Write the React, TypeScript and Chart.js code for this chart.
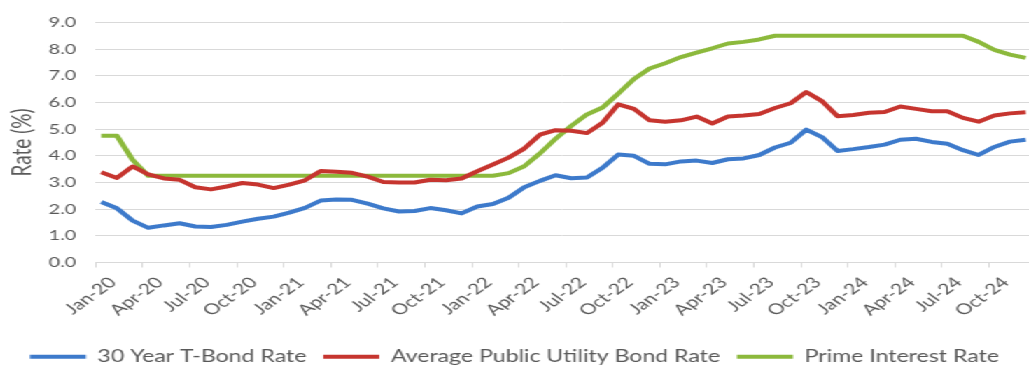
import React, { useEffect, useRef } from "react";
import { Chart, registerables } from "chart.js";

Chart.register(...registerables);

const months: string[] = [
  "Jan-20","Feb-20","Mar-20","Apr-20","May-20","Jun-20","Jul-20","Aug-20","Sep-20","Oct-20","Nov-20","Dec-20",
  "Jan-21","Feb-21","Mar-21","Apr-21","May-21","Jun-21","Jul-21","Aug-21","Sep-21","Oct-21","Nov-21","Dec-21",
  "Jan-22","Feb-22","Mar-22","Apr-22","May-22","Jun-22","Jul-22","Aug-22","Sep-22","Oct-22","Nov-22","Dec-22",
  "Jan-23","Feb-23","Mar-23","Apr-23","May-23","Jun-23","Jul-23","Aug-23","Sep-23","Oct-23","Nov-23","Dec-23",
  "Jan-24","Feb-24","Mar-24","Apr-24","May-24","Jun-24","Jul-24","Aug-24","Sep-24","Oct-24","Nov-24","Dec-24",
];

const tBondRate: number[] = [
  2.27, 2.03, 1.57, 1.30, 1.39, 1.47, 1.35, 1.33, 1.41, 1.53, 1.64, 1.72,
  1.87, 2.05, 2.32, 2.36, 2.35, 2.21, 2.03, 1.91, 1.93, 2.04, 1.96, 1.84,
  2.10, 2.19, 2.43, 2.82, 3.06, 3.27, 3.16, 3.19, 3.55, 4.05, 4.00, 3.70,
  3.68, 3.79, 3.82, 3.73, 3.87, 3.90, 4.03, 4.31, 4.49, 4.98, 4.70, 4.18,
  4.25, 4.33, 4.42, 4.60, 4.64, 4.52, 4.45, 4.21, 4.03, 4.33, 4.53, 4.60,
];

const utilityBondRate: number[] = [
  3.38, 3.17, 3.60, 3.30, 3.15, 3.10, 2.82, 2.74, 2.85, 2.98, 2.92, 2.79,
  2.92, 3.08, 3.43, 3.40, 3.36, 3.22, 3.02, 3.00, 3.00, 3.10, 3.08, 3.15,
  3.42, 3.67, 3.93, 4.27, 4.79, 4.96, 4.94, 4.85, 5.24, 5.93, 5.76, 5.33,
  5.28, 5.33, 5.47, 5.21, 5.47, 5.51, 5.57, 5.79, 5.97, 6.39, 6.05, 5.48,
  5.53, 5.61, 5.64, 5.85, 5.76, 5.67, 5.67, 5.42, 5.28, 5.51, 5.59, 5.63,
];

const primeRate: number[] = [
  4.75, 4.75, 3.85, 3.25, 3.25, 3.25, 3.25, 3.25, 3.25, 3.25, 3.25, 3.25,
  3.25, 3.25, 3.25, 3.25, 3.25, 3.25, 3.25, 3.25, 3.25, 3.25, 3.25, 3.25,
  3.25, 3.25, 3.35, 3.61, 4.09, 4.64, 5.12, 5.55, 5.81, 6.33, 6.88, 7.27,
  7.47, 7.70, 7.87, 8.03, 8.21, 8.27, 8.36, 8.50, 8.50, 8.50, 8.50, 8.50,
  8.50, 8.50, 8.50, 8.50, 8.50, 8.50, 8.50, 8.50, 8.27, 7.97, 7.79, 7.67,
];

const seriesNames: string[] = [
  "30 Year T-Bond Rate",
  "Average Public Utility Bond Rate",
  "Prime Interest Rate",
];

const FONT = "Lato, 'Open Sans', sans-serif";
const TEXT = "#595959";
const GRID = "#d9d9d9";
const POINT_SHIFT = 0.35; // points sit slightly after each month's tick
const X_MAX = 59.56;

const toPoints = (arr: number[]) => arr.map((v, i) => ({ x: i + POINT_SHIFT, y: v }));

export default function App() {
  const ref = useRef<HTMLCanvasElement | null>(null);

  useEffect(() => {
    if (!ref.current) return;
    const colors = ["#3d7acb", "#c6352f", "#8cb93c"];
    const values = [tBondRate, utilityBondRate, primeRate];
    const chart = new Chart(ref.current, {
      type: "line",
      data: {
        datasets: values.map((arr, k) => ({
          label: seriesNames[k],
          data: toPoints(arr),
          borderColor: colors[k],
          backgroundColor: colors[k],
          borderWidth: 4,
          pointRadius: 0,
          tension: 0,
          borderJoinStyle: "round" as const,
        })),
      },
      options: {
        animation: false,
        responsive: false,
        devicePixelRatio: 1,
        layout: { padding: { top: 15, right: 0, left: 0, bottom: -5 } },
        plugins: {
          tooltip: { enabled: false },
          legend: {
            position: "bottom",
            labels: {
              boxWidth: 40,
              boxHeight: 4,
              padding: 12,
              color: TEXT,
              font: { family: FONT, size: 16.5 },
              generateLabels: (c: any) =>
                Chart.defaults.plugins.legend.labels
                  .generateLabels(c)
                  .map((it: any) => ({ ...it, lineWidth: 0 })),
            },
          },
        },
        scales: {
          x: {
            type: "linear",
            min: 0,
            max: X_MAX,
            afterFit: (s: any) => {
              s.height = 74;
            },
            ticks: {
              stepSize: 3,
              includeBounds: false,
              autoSkip: false,
              minRotation: 45,
              maxRotation: 45,
              labelOffset: 12,
              padding: 6,
              color: TEXT,
              font: { family: FONT, size: 15 },
              callback: (v: any) => months[Math.round(Number(v))] ?? "",
            },
            grid: {
              drawOnChartArea: false,
              drawTicks: true,
              tickLength: 5,
              color: GRID,
            },
            border: { color: GRID, width: 1 },
          },
          y: {
            min: 0,
            max: 9,
            afterFit: (s: any) => {
              s.width = 68.4;
            },
            ticks: {
              stepSize: 1,
              padding: 14,
              color: TEXT,
              font: { family: FONT, size: 14 },
              callback: (v: any) => Number(v).toFixed(1),
            },
            grid: { color: GRID, drawTicks: false, lineWidth: 1 },
            border: { display: false },
            title: {
              display: true,
              text: "Rate (%)",
              color: TEXT,
              font: { family: FONT, size: 19 },
              padding: { top: 4, bottom: 0 },
            },
          },
        },
      },
    });
    return () => chart.destroy();
  }, []);

  return (
    <div
      style={{
        position: "absolute",
        left: 0,
        top: 0,
        width: 735,
        height: 370,
        transform: "scaleX(1.4)",
        transformOrigin: "0 0",
        background: "#ffffff",
      }}
    >
      <canvas ref={ref} width={735} height={370} style={{ display: "block" }} />
    </div>
  );
}
